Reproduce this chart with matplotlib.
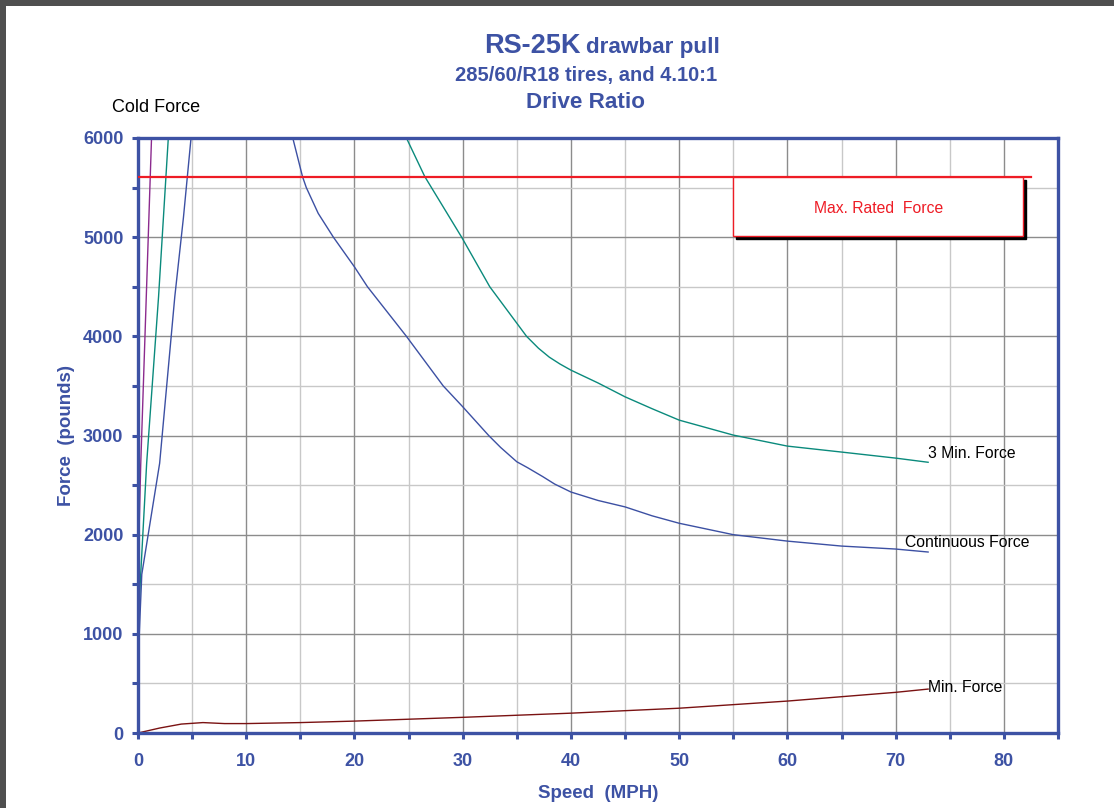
import matplotlib.pyplot as plt
import matplotlib.patches as patches
import matplotlib.transforms as mtransforms
from matplotlib.ticker import MultipleLocator

plt.rcParams['font.family'] = ['Liberation Sans', 'DejaVu Sans']

BLUE = '#3d52a4'

# Curves (speed mph, force lb)
cold_speed = [0.0, 0.25, 1.25]
cold_force = [1600, 2700, 6000]

cold3_speed = [0.0, 0.2, 0.8, 1.9, 2.8]
cold3_force = [800, 1500, 2720, 4400, 6000]

coldc_speed = [0.0, 0.35, 2.0, 3.4, 4.2, 4.9]
coldc_force = [700, 1600, 2720, 4400, 5200, 6000]

cont_speed = [14.3, 15.2, 15.55, 16.65, 18.05, 20.0, 21.2, 24.8, 28.2, 30.0, 32.4, 33.5, 35.0,
              36.0, 37.4, 38.5, 40.0, 42.5, 45, 47.5, 50, 55, 60, 65, 70, 73]
cont_force = [6000, 5610, 5500, 5240, 5000, 4700, 4500, 4000, 3500, 3290, 3000, 2880, 2735,
              2675, 2585, 2510, 2430, 2345, 2280, 2190, 2115, 2000, 1935, 1885, 1855, 1825]

min3_speed = [24.8, 26.5, 29.9, 32.5, 35.9, 37.0, 38.0, 39.0, 40.0, 42.5, 45, 47.5, 50, 55,
              60, 65, 70, 73]
min3_force = [6000, 5610, 5000, 4500, 4000, 3880, 3790, 3720, 3659, 3530, 3390, 3270, 3155,
              3004, 2893, 2833, 2772, 2730]

minf_speed = [0, 2, 4, 6, 8, 10, 15, 20, 30, 40, 50, 60, 70, 73]
minf_force = [0, 50, 90, 105, 95, 95, 105, 120, 158, 200, 250, 322, 410, 443]

max_rated = 5605
box_x = [55.0, 81.8]
box_y = [5010, 5605]

fig = plt.figure(figsize=(11.14, 8.08), dpi=100)
fig.patch.set_facecolor('white')
# dark viewer frame at top and left
fig.patches.append(patches.Rectangle((0, 1 - 6 / 808), 1, 6 / 808, transform=fig.transFigure,
                                     facecolor='#4f4f4f', edgecolor='none'))
fig.patches.append(patches.Rectangle((0, 0), 6 / 1114, 1, transform=fig.transFigure,
                                     facecolor='#4f4f4f', edgecolor='none'))

ax = fig.add_axes([138 / 1114, 1 - 733 / 808, 920 / 1114, 595 / 808])
ax.set_xlim(0, 85)
ax.set_ylim(0, 6000)

ax.xaxis.set_major_locator(MultipleLocator(10))
ax.xaxis.set_minor_locator(MultipleLocator(5))
ax.yaxis.set_major_locator(MultipleLocator(1000))
ax.yaxis.set_minor_locator(MultipleLocator(500))
ax.grid(which='major', color='#8c8c8c', lw=1.0)
ax.grid(which='minor', color='#c8c8c8', lw=1.0)
ax.set_axisbelow(True)

for s in ax.spines.values():
    s.set_color(BLUE)
    s.set_linewidth(2.4)
ax.tick_params(which='both', direction='out', color=BLUE, width=2.2, length=4.5)
ax.tick_params(axis='x', which='both', labelcolor=BLUE, labelsize=13, pad=10)
ax.tick_params(axis='y', which='both', labelcolor=BLUE, labelsize=13, pad=6)
for lab in ax.get_xticklabels() + ax.get_yticklabels():
    lab.set_fontweight('bold')

ax.plot(cold_speed, cold_force, color='#8b2a8e', lw=1.0)
ax.plot(cold3_speed, cold3_force, color='#0a8a7c', lw=1.0)
ax.plot(coldc_speed, coldc_force, color='#3c50a3', lw=1.0)
ax.plot(cont_speed, cont_force, color='#3c50a3', lw=1.0)
ax.plot(min3_speed, min3_force, color='#0a8a7c', lw=1.0)
ax.plot(minf_speed, minf_force, color='#7a1212', lw=1.0)

ax.plot([0, 82.5], [max_rated, max_rated], color='#ee1c25', lw=1.6, zorder=3)
shadow = mtransforms.offset_copy(ax.transData, fig=fig, x=3, y=-3, units='dots')
ax.add_patch(patches.Rectangle((box_x[0], box_y[0]), box_x[1] - box_x[0], box_y[1] - box_y[0],
                               facecolor='black', edgecolor='black', transform=shadow, zorder=4))
ax.add_patch(patches.Rectangle((box_x[0], box_y[0]), box_x[1] - box_x[0], box_y[1] - box_y[0],
                               facecolor='white', edgecolor='#ee1c25', lw=1.0, zorder=5))
ax.text(sum(box_x) / 2, 5290, 'Max. Rated  Force', color='#ee1c25', fontsize=11.3,
        ha='center', va='center', zorder=6)

ax.text(73.0, 2823, '3 Min. Force', fontsize=11.3, va='center', ha='left')
ax.text(70.9, 1925, 'Continuous Force', fontsize=11.3, va='center', ha='left')
ax.text(73.0, 454, 'Min. Force', fontsize=11.3, va='center', ha='left')

ax.set_xlabel('Speed  (MPH)', color=BLUE, fontsize=13.5, fontweight='bold', labelpad=11)
ax.set_ylabel('Force  (pounds)', color=BLUE, fontsize=13.5, fontweight='bold', labelpad=6)

fig.text(112 / 1114, 1 - 107 / 808, 'Cold Force', fontsize=13, va='center', ha='left')

fig.text(581 / 1114, 1 - 46 / 808, 'RS-25K', color=BLUE, fontsize=19.5, fontweight='bold',
         ha='right', va='center')
fig.text(586 / 1114, 1 - 47 / 808, 'drawbar pull', color=BLUE, fontsize=16.2, fontweight='bold',
         ha='left', va='center')
fig.text(586 / 1114, 1 - 75 / 808, '285/60/R18 tires, and 4.10:1', color=BLUE, fontsize=14.5,
         fontweight='bold', ha='center', va='center')
fig.text(586 / 1114, 1 - 103 / 808, 'Drive Ratio', color=BLUE, fontsize=16.2,
         fontweight='bold', ha='center', va='center')

fig.savefig('out.png', dpi=100)
